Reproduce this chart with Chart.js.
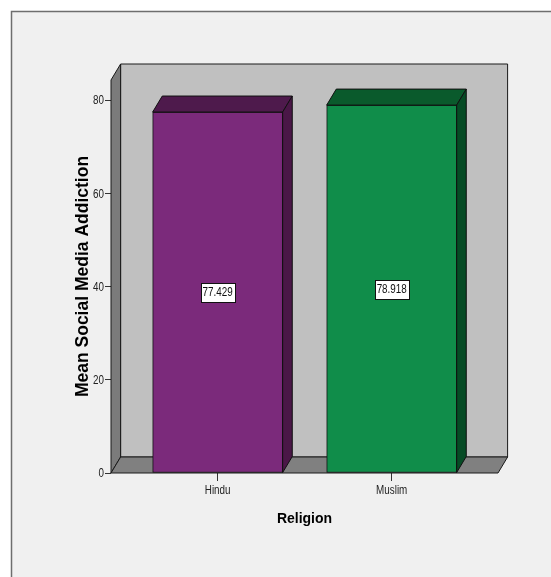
<!DOCTYPE html>
<html>
<head>
<meta charset="utf-8">
<title>Mean Social Media Addiction by Religion</title>
<script src="https://cdn.jsdelivr.net/npm/chart.js@4/dist/chart.umd.min.js"></script>
<style>
  html, body { margin: 0; padding: 0; background: #ffffff; overflow: hidden; }
  #wrap { width: 551px; height: 577px; }
</style>
</head>
<body>
<div id="wrap"><canvas id="chart" width="551" height="577"></canvas></div>
<script>
// Group means
const categories = ['Hindu', 'Muslim'];
const meanScores = [77.429, 78.918];
const yTickValues = [0, 20, 40, 60, 80];

// Bar colours: front face, top face, right side face
const faceColors = ['#7b2a7b', '#108d4a'];
const topColors = ['#4e1a4c', '#0a5a2c'];
const sideColors = ['#4a1747', '#064b25'];

const SANS = "'Liberation Sans', Arial, sans-serif";
// small labels use a horizontally condensed sans
const SMALL_FONT = '12px ' + SANS;
const CONDENSE = 0.82;

// depth offset of the 3D frame and bars (px)
const DX = 9.6, DY = -16;

function poly(ctx, pts, fill, stroke) {
  ctx.beginPath();
  ctx.moveTo(pts[0][0], pts[0][1]);
  for (let i = 1; i < pts.length; i++) ctx.lineTo(pts[i][0], pts[i][1]);
  ctx.closePath();
  ctx.fillStyle = fill;
  ctx.fill();
  ctx.strokeStyle = stroke;
  ctx.lineWidth = 1;
  ctx.stroke();
}

function narrowText(ctx, text, x, y, align, baseline, color) {
  ctx.save();
  ctx.translate(x, y);
  ctx.scale(CONDENSE, 1);
  ctx.font = SMALL_FONT;
  ctx.fillStyle = color;
  ctx.textAlign = align;
  ctx.textBaseline = baseline;
  ctx.fillText(text, 0, 0);
  ctx.restore();
}

const box3d = {
  id: 'box3d',
  beforeDraw(chart) {
    const ctx = chart.ctx;
    ctx.save();
    ctx.fillStyle = '#ffffff';
    ctx.fillRect(0, 0, chart.width, chart.height);
    ctx.fillStyle = '#f0f0f0';
    ctx.fillRect(11, 11, chart.width, chart.height);
    ctx.strokeStyle = '#6e6e6e';
    ctx.lineWidth = 1.5;
    ctx.beginPath();
    ctx.moveTo(11.5, chart.height);
    ctx.lineTo(11.5, 11.5);
    ctx.lineTo(chart.width, 11.5);
    ctx.stroke();
    ctx.restore();
  },
  beforeDatasetsDraw(chart) {
    const ctx = chart.ctx;
    const { left, right, top, bottom } = chart.chartArea;
    ctx.save();
    // back wall
    poly(ctx, [[left + DX, top + DY], [right + DX, top + DY], [right + DX, bottom + DY], [left + DX, bottom + DY]], '#c0c0c0', '#1a1a1a');
    // left side wall
    poly(ctx, [[left, top], [left + DX, top + DY], [left + DX, bottom + DY], [left, bottom]], '#7b7b7b', '#1a1a1a');
    // floor
    poly(ctx, [[left, bottom], [left + DX, bottom + DY], [right + DX, bottom + DY], [right, bottom]], '#808080', '#1a1a1a');
    ctx.restore();
  },
  afterDatasetsDraw(chart) {
    const ctx = chart.ctx;
    const yScale = chart.scales.y;
    const meta = chart.getDatasetMeta(0);
    ctx.save();
    meta.data.forEach((bar, i) => {
      const { x, y, base, width } = bar.getProps(['x', 'y', 'base', 'width'], true);
      const l = x - width / 2, r = x + width / 2;
      // top face
      poly(ctx, [[l, y], [l + DX, y + DY], [r + DX, y + DY], [r, y]], topColors[i], '#111111');
      // right side face
      poly(ctx, [[r, y], [r + DX, y + DY], [r + DX, base + DY], [r, base]], sideColors[i], '#111111');

      // value label in the middle of the bar
      const v = meanScores[i];
      const text = v.toFixed(3);
      const cy = yScale.getPixelForValue(v / 2);
      ctx.font = SMALL_FONT;
      const tw = ctx.measureText(text).width * CONDENSE;
      const bw = Math.round(tw + 4), bh = 19;
      const bx = Math.round(x - bw / 2) + 0.5, by = Math.round(cy - bh / 2) + 0.5;
      ctx.fillStyle = '#ffffff';
      ctx.fillRect(bx, by, bw, bh);
      ctx.strokeStyle = '#111111';
      ctx.lineWidth = 1;
      ctx.strokeRect(bx, by, bw, bh);
      narrowText(ctx, text, x, cy + 0.5, 'center', 'middle', '#111111');
    });
    ctx.restore();
  },
  afterDraw(chart) {
    // tick labels, placed at the scales' own tick positions
    const ctx = chart.ctx;
    const xs = chart.scales.x, ys = chart.scales.y;
    xs.ticks.forEach(t => {
      narrowText(ctx, categories[t.value], xs.getPixelForValue(t.value), xs.top + 12, 'center', 'top', '#222222');
    });
    ys.ticks.forEach(t => {
      narrowText(ctx, String(t.value), ys.right - 7, ys.getPixelForValue(t.value) + 1, 'right', 'middle', '#222222');
    });
  }
};

new Chart(document.getElementById('chart'), {
  type: 'bar',
  data: {
    datasets: [{
      data: meanScores.map((v, i) => ({ x: i, y: v })),
      backgroundColor: faceColors,
      borderColor: '#111111',
      borderWidth: 1,
      borderSkipped: false,
      barThickness: 130
    }]
  },
  options: {
    responsive: false,
    animation: false,
    devicePixelRatio: 1,
    layout: { padding: { left: 0, top: 80, right: 53, bottom: 0 } },
    plugins: { legend: { display: false }, tooltip: { enabled: false } },
    scales: {
      x: {
        type: 'linear',
        min: -0.613,
        max: 1.611,
        offset: false,
        grid: { display: true, drawOnChartArea: false, drawTicks: true, tickLength: 8, color: '#333333', offset: false },
        border: { display: false },
        afterBuildTicks: s => { s.ticks = categories.map((c, i) => ({ value: i })); },
        afterFit: s => { s.height = 104; },
        ticks: { display: false, autoSkip: false, maxRotation: 0 },
        title: {
          display: true,
          text: 'Religion',
          color: '#000000',
          font: { family: SANS, size: 14, weight: 'bold' },
          padding: { top: 0, bottom: 49.6 }
        }
      },
      y: {
        type: 'linear',
        min: 0,
        max: 84.3,
        grid: { display: true, drawOnChartArea: false, drawTicks: true, tickLength: 6, color: '#333333' },
        border: { display: false },
        afterBuildTicks: s => { s.ticks = yTickValues.map(v => ({ value: v })); },
        afterFit: s => { s.width = 111; },
        ticks: { display: false },
        title: {
          display: true,
          text: 'Mean Social Media Addiction',
          color: '#000000',
          font: { family: SANS, size: 17.5, weight: 'bold' },
          padding: { top: 72.5, bottom: 0 }
        }
      }
    }
  },
  plugins: [box3d]
});
</script>
</body>
</html>
